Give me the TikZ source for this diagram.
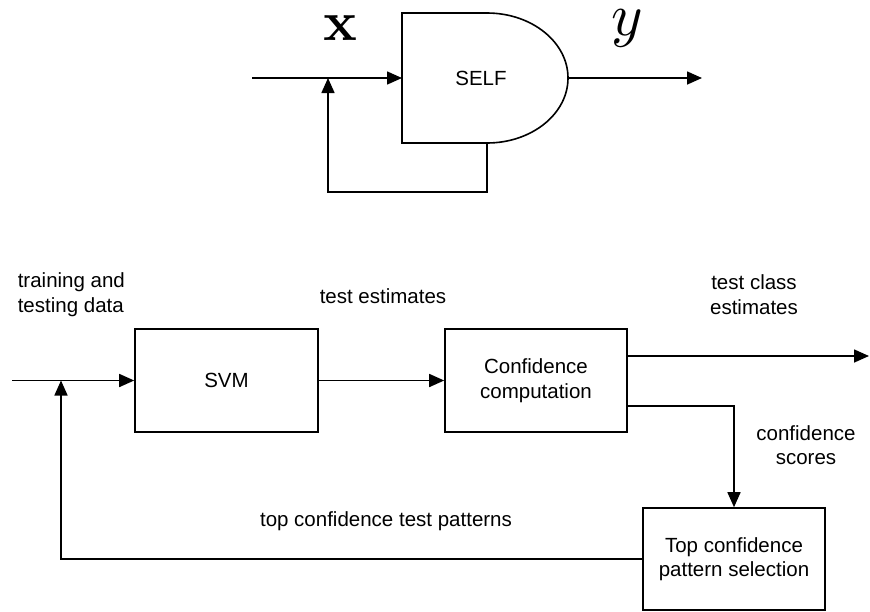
\documentclass[tikz,border=0pt]{standalone}
\usepackage[no-math]{fontspec}
\usepackage{graphicx}
\newfontfamily\lsans{Liberation Sans}
\usetikzlibrary{arrows.meta}
\begin{document}
\begin{tikzpicture}[x=1pt,y=-1pt,line width=1.6pt,
  lbl/.style={font=\lsans\fontsize{20.5}{24.5}\selectfont,align=center,inner sep=0pt},
  box/.style={draw,line width=1.6pt,font=\lsans\fontsize{20.5}{24.5}\selectfont,align=center,inner sep=0pt},
  arr/.style={-{Triangle[length=15pt,width=13pt]}}]
\useasboundingbox (0,0) rectangle (870,611);
% ---------- top: SELF ----------
\draw (402,13) -- (487,13) .. controls (531.7,13) and (568,42.1) .. (568,78)
      .. controls (568,113.9) and (531.7,143) .. (487,143) -- (402,143) -- cycle;
\node[lbl] (self) at (481,78) {SELF};
\coordinate (selfin) at (402,78);
\coordinate (selfout) at (568,78);
\coordinate (selfbot) at (487,143);
\coordinate (xin) at (252,78);
\coordinate (yout) at (702,78);
\coordinate (fbtop) at (328,78);
\coordinate (fbcorner) at (487,192);
\draw[arr] (xin) -- (selfin);
\draw[arr] (selfout) -- (yout);
\draw[arr] (selfbot) -- (fbcorner) -| (fbtop);
\node[anchor=base,inner sep=0pt] (xlbl) at (340,40) {\scalebox{5.6}{$\mathbf{x}$}};
\node[anchor=base,inner sep=0pt] (ylbl) at (627,35) {\scalebox{6}{$y$}};
% ---------- bottom ----------
\node[box,minimum width=183pt,minimum height=103pt] (svm) at (226.5,380.5) {SVM};
\node[box,minimum width=182pt,minimum height=103pt] (conf) at (536,380.5) {Confidence\\computation};
\node[box,minimum width=182pt,minimum height=102pt] (top) at (734,559) {Top confidence\\pattern selection};
\coordinate (in) at (12,380.5);
\coordinate (fb) at (61,380.5);
\coordinate (outend) at (869,356);
\coordinate (cs) at (627,406);
\draw[arr] (in) -- (svm.west);
\draw[arr] (svm.east) -- (conf.west);
\draw[arr] (conf.east |- outend) -- (outend);
\draw[arr] (conf.east |- cs) -| (top.north);
\draw[arr] (top.west) -| (fb);
\node[lbl,align=left,anchor=west] (tr) at (17,294.5) {training and\\testing data};
\node[lbl] (te) at (383,296) {test estimates};
\node[lbl] (tce) at (754,294.5) {test class\\estimates};
\node[lbl] (csl) at (806,445) {confidence\\scores};
\node[lbl] (tctp) at (386,521) {top confidence test patterns};
\end{tikzpicture}
\end{document}
